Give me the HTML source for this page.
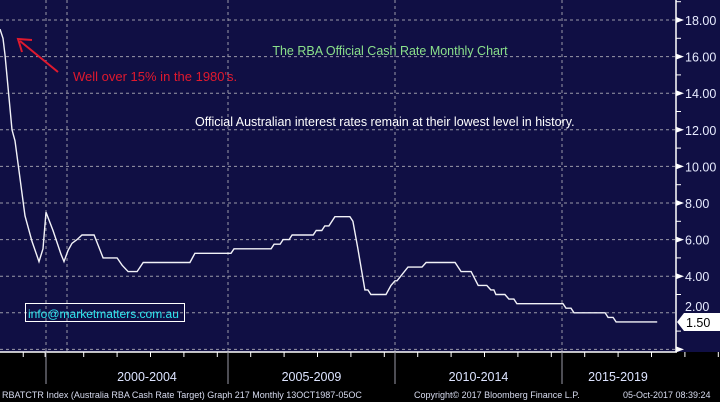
<!DOCTYPE html>
<html><head><meta charset="utf-8"><style>
html,body{margin:0;padding:0;background:#000;}
svg{display:block;font-family:"Liberation Sans",sans-serif;}
</style></head><body>
<svg id="chart" width="720" height="402" viewBox="0 0 720 402">
<rect x="0" y="0" width="720" height="352" fill="#100f44"/>
<g id="grid"></g>
<g id="yaxis"></g>
<g id="xaxis"></g>
<path id="line" fill="none" stroke="#f2f2f8" stroke-width="1.4"/>
<text x="390" y="55" text-anchor="middle" font-size="12.5" fill="#8be08b">The RBA Official Cash Rate Monthly Chart</text>
<text x="73" y="81" font-size="13" fill="#e0192e">Well over 15% in the 1980's.</text>
<g stroke="#e0192e" stroke-width="2" fill="none">
<line x1="58" y1="72" x2="20" y2="41"/><polyline points="22,52 18,39 32,40"/>
</g>
<text x="195" y="126" font-size="12.5" fill="#ffffff">Official Australian interest rates remain at their lowest level in history.</text>
<rect x="25.5" y="303.5" width="159" height="18" fill="none" stroke="#ffffff" stroke-width="1"/>
<text x="28" y="318" font-size="12" fill="#2ee8f0">info@marketmatters.com.au</text>
<g>
<polygon points="677,322 684,313 720,313 720,331 684,331" fill="#ffffff"/>
<text x="686" y="327" font-size="12.5" fill="#000">1.50</text>
</g>
<g font-size="9" fill="#d8dcf0">
<text x="2" y="398">RBATCTR Index (Australia RBA Cash Rate Target) Graph 217  Monthly 13OCT1987-05OC</text>
<text x="414" y="398">Copyright© 2017 Bloomberg Finance L.P.</text>
<text x="623" y="398">05-Oct-2017 08:39:24</text>
</g>
</svg>
<script>
const periods = [1987.75,1988.30,1988.66,1989.94,1990.49,1992.32,1993.60,1994.88,1995.61,1996.16,1997.44,1998.90,1999.45,
2000.03,2000.15,2000.30,2000.45,2000.81,2000.93,2001.08,2001.50,2001.65,2001.83,2002.10,2002.28,2003.68,2003.83,2004.91,2005.00,
2006.11,2006.20,2006.38,2006.47,2006.65,2006.74,2007.37,2007.46,2007.63,2007.72,2007.84,2008.02,2008.47,2008.56,2008.71,2008.92,
2009.01,2009.10,2009.55,2009.70,2009.82,2009.88,2010.21,2010.63,2010.75,2011.62,2011.80,2012.10,2012.31,2012.57,2012.69,2012.78,
2012.84,2013.11,2013.23,2013.38,2013.47,2014.85,2014.94,2015.09,2015.18,2016.11,2016.20,2016.35,2016.44,2017.67];
const rates = [17.5,17.0,16.1,12.0,11.4,7.3,5.9,4.8,5.5,7.5,6.5,5.2,4.8,
5.4,5.8,6.0,6.25,6.25,5.7,5.0,5.0,4.6,4.25,4.25,4.75,4.75,5.25,5.25,5.5,
5.5,5.75,5.75,6.0,6.0,6.25,6.25,6.5,6.5,6.75,6.75,7.25,7.25,7.0,5.5,3.25,
3.25,3.0,3.0,3.5,3.75,3.75,4.5,4.5,4.75,4.75,4.25,4.25,3.5,3.5,3.25,3.25,
3.0,3.0,2.75,2.75,2.5,2.5,2.25,2.25,2.0,2.0,1.75,1.75,1.5,1.5];
const yTicks = [2,4,6,8,10,12,14,16,18];
const xSectionLabels = ["2000-2004","2005-2009","2010-2014","2015-2019"];
const xSectionStarts = [2000,2005,2010,2015];

const NS="http://www.w3.org/2000/svg";
function yScale(v){return 20+(18-v)*18.3;}
function xScale(t){return t<2000 ? (t-1987.75)*5.47 : 67+(t-2000)*33.4;}
function mk(tag,attrs,parent){const e=document.createElementNS(NS,tag);for(const k in attrs)e.setAttribute(k,attrs[k]);parent.appendChild(e);return e;}

const grid=document.getElementById('grid');
[0].concat(yTicks).forEach(v=>{
  const l=mk('line',{x1:0,x2:676,y1:yScale(v),y2:yScale(v),stroke:'#9a9aa8','stroke-dasharray':'3,3','stroke-width':1},grid);
  
  
});
const sepX=[46,xScale(2000)].concat(xSectionStarts.slice(1).map(t=>xScale(t)-6));
sepX.forEach(x=>{
  const l=mk('line',{x1:x,x2:x,y1:0,y2:352,stroke:'#9a9aa8','stroke-dasharray':'3,3','stroke-width':1},grid);
  
  
});

const ya=document.getElementById('yaxis');
const ax=mk('line',{x1:676,x2:676,y1:0,y2:352,stroke:'#fff','stroke-width':1.5},ya);


const bx=mk('line',{x1:0,x2:677,y1:352,y2:352,stroke:'#fff','stroke-width':1.5},ya);


for(let v=1;v<=19;v+=2){const t=mk('line',{x1:676,x2:681,y1:yScale(v),y2:yScale(v),stroke:'#fff'},ya);
  
  }
mk('polygon',{points:`676,${yScale(0)-3} 684,${yScale(0)} 676,${yScale(0)+3}`,fill:'#fff'},ya);
yTicks.forEach(v=>{
  if(v===2)return;
  const y=yScale(v);
  const tri=mk('polygon',{points:`676,${y-3} 684,${y} 676,${y+3}`,fill:'#fff'},ya);
  
  
  const tx=mk('text',{x:685,y:y+5,'font-size':12.5,fill:'#e8ecff'},ya);
  tx.textContent=v.toFixed(2);
  
  
});
const y2=yScale(2);
const t2=mk('text',{x:685,y:y2-2,'font-size':12.5,fill:'#e8ecff'},ya);
t2.textContent='2.00';



const xa=document.getElementById('xaxis');
sepX.forEach((x,i)=>{ if(i===1)return;
  const l=mk('line',{x1:x,x2:x,y1:352,y2:384,stroke:'#9a9aa8'},xa);
  
  
});
const minorYears=[1992,1996];
for(let t=2000;t<=2019;t++)minorYears.push(t+0.5);
minorYears.forEach(t=>{const x=xScale(t);const l=mk('line',{x1:x,x2:x,y1:352,y2:357,stroke:'#fff'},xa);
  
  });
xSectionLabels.forEach((lab,i)=>{
  const a=xScale(xSectionStarts[i]), b=Math.min(xScale(xSectionStarts[i]+5),676);
  const tx=mk('text',{x:i===0?147:(i===3?618:(a+b)/2-6),y:381,'text-anchor':'middle','font-size':12.5,fill:'#dde4ff'},xa);
  tx.textContent=lab;
  
  
});

let d='';
periods.forEach((t,i)=>{d+=(i?'L':'M')+xScale(t).toFixed(1)+','+yScale(rates[i]).toFixed(1);});
document.getElementById('line').setAttribute('d',d);
</script>
</body></html>
